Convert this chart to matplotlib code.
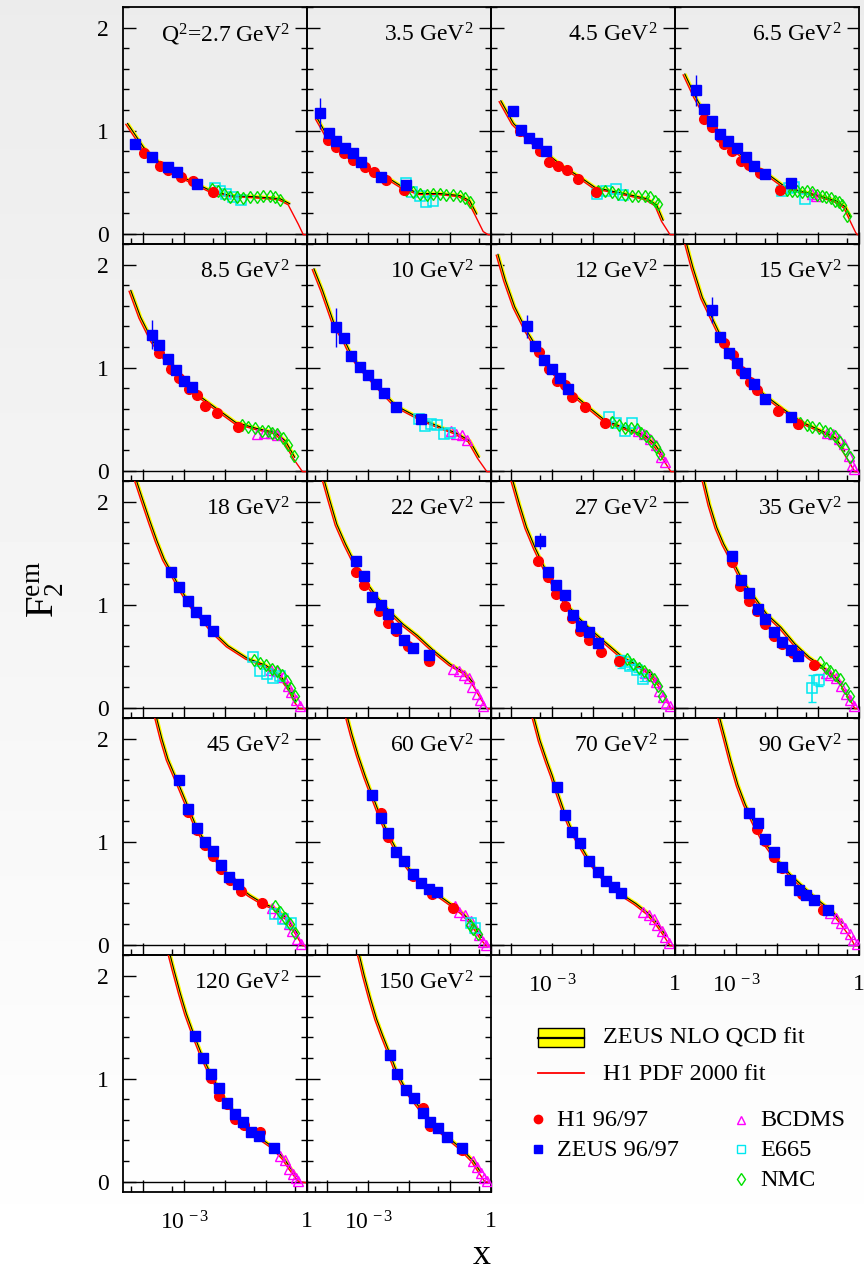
import numpy as np
import matplotlib.pyplot as plt
from matplotlib.ticker import FixedLocator, FixedFormatter, NullFormatter
from matplotlib.transforms import ScaledTranslation
from matplotlib.patches import Rectangle

plt.rcParams['font.family'] = ['Liberation Serif', 'DejaVu Serif']
plt.rcParams['mathtext.fontset'] = 'custom'
plt.rcParams['mathtext.rm'] = 'Liberation Serif'
plt.rcParams['mathtext.it'] = 'Liberation Serif:italic'

# Q2 bins (GeV^2)
q2_labels = ['Q$^2$=2.7 GeV$^2$', '3.5 GeV$^2$', '4.5 GeV$^2$', '6.5 GeV$^2$',
             '8.5 GeV$^2$', '10 GeV$^2$', '12 GeV$^2$', '15 GeV$^2$',
             '18 GeV$^2$', '22 GeV$^2$', '27 GeV$^2$', '35 GeV$^2$',
             '45 GeV$^2$', '60 GeV$^2$', '70 GeV$^2$', '90 GeV$^2$',
             '120 GeV$^2$', '150 GeV$^2$']

# fit curves (log10 x, F2)
fit_lx = [
    [-4.39, -4.0, -3.76, -3.35, -2.94, -2.37, -1.88, -1.31, -0.66, -0.42, -0.17, -0.05, 0.0],
    [-4.25, -4.02, -3.78, -3.45, -3.04, -2.55, -2.15, -1.74, -1.25, -0.76, -0.52, -0.35, -0.15, -0.03, 0.0],
    [-4.26, -3.95, -3.55, -3.14, -2.73, -2.32, -1.96, -1.51, -1.02, -0.69, -0.45, -0.29, -0.08, 0.0],
    [-4.26, -4.0, -3.75, -3.42, -3.02, -2.61, -2.20, -1.79, -1.39, -0.98, -0.57, -0.33, -0.21, -0.04, 0.0],
    [-4.31, -4.07, -3.78, -3.43, -3.09, -2.68, -2.27, -1.75, -1.23, -0.77, -0.53, -0.30, -0.07, 0.0],
    [-4.33, -4.12, -3.83, -3.60, -3.42, -3.21, -3.00, -2.82, -2.61, -2.32, -1.70, -1.22, -0.87, -0.52, -0.29, -0.06, 0.0],
    [-4.33, -4.15, -3.92, -3.63, -3.28, -2.93, -2.53, -2.12, -1.72, -1.19, -0.73, -0.50, -0.27, -0.06, 0.0],
    [-4.25, -4.06, -3.83, -3.60, -3.36, -3.02, -2.67, -2.32, -1.86, -1.39, -0.93, -0.58, -0.35, -0.06, 0.0],
    [-4.21, -4.01, -3.84, -3.67, -3.49, -3.32, -3.12, -2.90, -2.71, -2.50, -2.30, -1.93, -1.46, -1.0, -0.65, -0.42, -0.28, -0.15, 0.0],
    [-4.11, -3.94, -3.77, -3.56, -3.31, -3.07, -2.78, -2.49, -2.15, -1.80, -1.39, -0.99, -0.64, -0.41, -0.17, -0.06, 0.0],
    [-4.0, -3.80, -3.63, -3.42, -3.19, -2.93, -2.64, -2.35, -2.01, -1.66, -1.31, -0.96, -0.61, -0.38, -0.15, -0.06, 0.0],
    [-3.82, -3.65, -3.48, -3.31, -3.07, -2.84, -2.55, -2.26, -1.91, -1.57, -1.22, -0.93, -0.64, -0.41, -0.17, -0.06, 0.0],
    [-3.71, -3.55, -3.40, -3.25, -3.12, -2.90, -2.69, -2.49, -2.31, -2.11, -1.90, -1.68, -1.40, -1.11, -0.77, -0.47, -0.24, -0.07, 0.0],
    [-3.54, -3.40, -3.25, -3.07, -2.90, -2.70, -2.52, -2.32, -2.12, -1.91, -1.72, -1.51, -1.32, -0.93, -0.70, -0.46, -0.23, -0.08, 0.0],
    [-3.48, -3.30, -3.12, -3.0, -2.89, -2.69, -2.51, -2.32, -2.10, -1.89, -1.69, -1.50, -1.31, -0.96, -0.67, -0.44, -0.21, -0.08, 0.0],
    [-3.44, -3.28, -3.13, -2.96, -2.78, -2.55, -2.32, -2.03, -1.68, -1.33, -0.93, -0.64, -0.41, -0.17, -0.06, 0.0],
    [-3.38, -3.25, -3.10, -2.95, -2.75, -2.55, -2.36, -2.15, -1.95, -1.75, -1.56, -1.36, -1.17, -0.81, -0.57, -0.40, -0.25, -0.16, 0.0],
    [-3.25, -3.10, -2.95, -2.80, -2.65, -2.47, -2.30, -2.09, -1.88, -1.67, -1.48, -1.29, -1.08, -0.72, -0.43, -0.25, -0.11, 0.0],
]
fit_f2 = [
    [1.07, 0.84, 0.74, 0.62, 0.53, 0.42, 0.37, 0.36, 0.34, 0.29, 0.10, 0.0, 0.0],
    [1.12, 0.96, 0.86, 0.74, 0.63, 0.55, 0.45, 0.39, 0.39, 0.37, 0.32, 0.19, 0.03, 0.0, 0.0],
    [1.29, 1.07, 0.91, 0.78, 0.65, 0.55, 0.45, 0.41, 0.37, 0.34, 0.28, 0.13, 0.0, 0.0],
    [1.55, 1.33, 1.15, 0.97, 0.81, 0.68, 0.57, 0.45, 0.41, 0.37, 0.32, 0.26, 0.16, 0.02, 0.0],
    [1.75, 1.49, 1.26, 1.07, 0.91, 0.74, 0.62, 0.47, 0.41, 0.37, 0.29, 0.13, 0.0, 0.0],
    [1.96, 1.75, 1.42, 1.28, 1.13, 1.01, 0.92, 0.84, 0.75, 0.63, 0.50, 0.42, 0.37, 0.29, 0.13, 0.0, 0.0],
    [2.10, 1.85, 1.59, 1.36, 1.13, 0.94, 0.76, 0.62, 0.49, 0.41, 0.34, 0.26, 0.13, 0.0, 0.0],
    [2.25, 1.97, 1.68, 1.49, 1.29, 1.07, 0.89, 0.74, 0.60, 0.47, 0.39, 0.32, 0.19, 0.0, 0.0],
    [2.25, 2.01, 1.81, 1.62, 1.44, 1.32, 1.17, 1.03, 0.93, 0.84, 0.74, 0.60, 0.48, 0.41, 0.31, 0.18, 0.07, 0.0, 0.0],
    [2.25, 2.01, 1.78, 1.59, 1.39, 1.23, 1.07, 0.94, 0.81, 0.70, 0.55, 0.42, 0.34, 0.23, 0.07, 0.0, 0.0],
    [2.25, 1.97, 1.75, 1.55, 1.36, 1.17, 1.00, 0.87, 0.74, 0.62, 0.50, 0.42, 0.34, 0.23, 0.07, 0.0, 0.0],
    [2.25, 1.97, 1.75, 1.59, 1.41, 1.23, 1.07, 0.91, 0.78, 0.62, 0.49, 0.41, 0.32, 0.23, 0.08, 0.0, 0.0],
    [2.25, 2.00, 1.80, 1.66, 1.54, 1.33, 1.13, 1.00, 0.89, 0.77, 0.66, 0.57, 0.48, 0.41, 0.35, 0.25, 0.11, 0.0, 0.0],
    [2.25, 2.04, 1.84, 1.63, 1.45, 1.24, 1.08, 0.93, 0.80, 0.69, 0.61, 0.54, 0.49, 0.38, 0.31, 0.21, 0.07, 0.0, 0.0],
    [2.25, 1.98, 1.77, 1.64, 1.50, 1.27, 1.10, 0.97, 0.82, 0.71, 0.62, 0.55, 0.49, 0.40, 0.31, 0.21, 0.08, 0.0, 0.0],
    [2.25, 2.01, 1.78, 1.55, 1.36, 1.17, 1.00, 0.84, 0.68, 0.55, 0.41, 0.32, 0.21, 0.08, 0.0, 0.0],
    [2.25, 2.05, 1.83, 1.63, 1.41, 1.21, 1.05, 0.90, 0.77, 0.66, 0.57, 0.49, 0.43, 0.33, 0.23, 0.13, 0.05, 0.01, 0.0],
    [2.25, 2.00, 1.78, 1.58, 1.42, 1.24, 1.06, 0.90, 0.79, 0.68, 0.59, 0.51, 0.44, 0.32, 0.20, 0.09, 0.01, 0.0],
]

# H1 96/97
h1_lx = [
    [-3.99, -3.60, -3.39, -3.09, -2.80, -2.29],
    [-3.98, -3.79, -3.59, -3.38, -3.08, -2.86, -2.57, -2.13],
    [-3.79, -3.30, -3.07, -2.85, -2.63, -2.37, -1.92],
    [-3.79, -3.59, -3.41, -3.30, -3.10, -2.89, -2.69, -2.41, -1.92],
    [-3.61, -3.32, -3.12, -2.89, -2.68, -2.49, -2.20, -1.68],
    [],
    [-3.33, -3.07, -2.88, -2.70, -2.52, -2.20, -1.72],
    [-3.29, -3.07, -2.89, -2.67, -2.49, -1.99, -1.48],
    [],
    [-3.31, -3.11, -2.73, -2.52, -2.32, -2.03, -1.51],
    [-3.34, -3.11, -2.91, -2.69, -2.52, -2.32, -2.10, -1.82, -1.37],
    [-3.10, -2.90, -2.69, -2.49, -2.30, -2.09, -1.88, -1.62, -1.09],
    [-2.90, -2.69, -2.49, -2.31, -2.11, -1.88, -1.61, -1.11],
    [-2.70, -2.52, -1.91, -1.45, -0.93],
    [],
    [-2.49, -2.30, -2.09, -1.88, -1.39, -0.89],
    [-2.36, -2.15, -1.95, -1.75, -1.55, -1.16],
    [-1.67, -1.48, -0.72],
]
h1_f2 = [
    [0.78, 0.66, 0.62, 0.55, 0.51, 0.40],
    [0.91, 0.84, 0.78, 0.72, 0.65, 0.60, 0.52, 0.42],
    [1.00, 0.80, 0.70, 0.66, 0.62, 0.53, 0.40],
    [1.11, 1.04, 0.94, 0.87, 0.80, 0.71, 0.67, 0.59, 0.42],
    [1.14, 0.99, 0.90, 0.79, 0.73, 0.63, 0.56, 0.42],
    [],
    [1.15, 0.99, 0.87, 0.83, 0.72, 0.62, 0.46],
    [1.24, 1.12, 0.97, 0.86, 0.78, 0.58, 0.45],
    [],
    [1.32, 1.19, 0.94, 0.82, 0.74, 0.60, 0.45],
    [1.42, 1.27, 1.10, 0.99, 0.87, 0.74, 0.66, 0.54, 0.45],
    [1.41, 1.18, 1.04, 0.94, 0.81, 0.70, 0.62, 0.53, 0.41],
    [1.29, 1.11, 0.97, 0.86, 0.73, 0.63, 0.52, 0.40],
    [1.28, 1.05, 0.67, 0.49, 0.36],
    [],
    [1.12, 1.01, 0.85, 0.74, 0.49, 0.34],
    [1.01, 0.83, 0.75, 0.61, 0.55, 0.48],
    [0.72, 0.54, 0.31],
]

# ZEUS 96/97
zeus_lx = [
    [-4.21, -3.78, -3.39, -3.19, -2.68],
    [-4.18, -3.96, -3.78, -3.57, -3.38, -3.19, -2.68, -2.08],
    [-3.97, -3.77, -3.57, -3.37, -3.16],
    [-3.98, -3.79, -3.59, -3.40, -3.20, -2.98, -2.77, -2.57, -2.30, -1.67],
    [-3.80, -3.61, -3.41, -3.20, -3.00, -2.81],
    [-3.80, -3.60, -3.42, -3.21, -3.00, -2.82, -2.61, -2.32, -1.70],
    [-3.63, -3.42, -3.21, -3.02, -2.82, -2.61],
    [-3.60, -3.39, -3.19, -2.98, -2.78, -2.57, -2.30, -1.67],
    [-3.32, -3.12, -2.90, -2.71, -2.50, -2.30],
    [-3.31, -3.11, -2.90, -2.70, -2.52, -2.32, -2.12, -1.91, -1.51],
    [-3.31, -3.10, -2.90, -2.69, -2.49, -2.30, -2.10, -1.89],
    [-3.10, -2.89, -2.68, -2.48, -2.30, -2.09, -1.88, -1.67, -1.48],
    [-3.12, -2.90, -2.69, -2.49, -2.31, -2.11, -1.90, -1.68],
    [-2.90, -2.70, -2.52, -2.32, -2.12, -1.91, -1.72, -1.51, -1.32],
    [-2.89, -2.69, -2.51, -2.32, -2.10, -1.89, -1.69, -1.50, -1.31],
    [-2.68, -2.48, -2.30, -2.09, -1.88, -1.68, -1.47, -1.30, -1.09, -0.75],
    [-2.75, -2.55, -2.36, -2.15, -1.95, -1.75, -1.56, -1.36, -1.17, -0.81],
    [-2.47, -2.30, -2.09, -1.88, -1.67, -1.48, -1.29, -1.08, -0.72],
]
zeus_f2 = [
    [0.87, 0.74, 0.65, 0.60, 0.48],
    [1.17, 0.98, 0.90, 0.83, 0.78, 0.70, 0.55, 0.47],
    [1.19, 1.01, 0.93, 0.88, 0.80],
    [1.39, 1.21, 1.09, 0.97, 0.90, 0.83, 0.74, 0.66, 0.58, 0.49],
    [1.32, 1.22, 1.08, 0.98, 0.87, 0.81],
    [1.39, 1.29, 1.11, 1.01, 0.93, 0.84, 0.75, 0.62, 0.50],
    [1.40, 1.21, 1.07, 0.99, 0.90, 0.79],
    [1.56, 1.30, 1.14, 1.05, 0.95, 0.84, 0.70, 0.52],
    [1.32, 1.17, 1.04, 0.93, 0.85, 0.74],
    [1.42, 1.28, 1.07, 1.00, 0.91, 0.77, 0.66, 0.58, 0.51],
    [1.62, 1.32, 1.19, 1.09, 0.90, 0.79, 0.73, 0.63],
    [1.47, 1.24, 1.11, 0.96, 0.86, 0.73, 0.64, 0.56, 0.50],
    [1.60, 1.32, 1.13, 1.00, 0.91, 0.77, 0.66, 0.59],
    [1.45, 1.23, 1.08, 0.90, 0.81, 0.69, 0.60, 0.54, 0.51],
    [1.53, 1.26, 1.09, 0.99, 0.81, 0.71, 0.62, 0.56, 0.50],
    [1.28, 1.18, 1.03, 0.90, 0.75, 0.63, 0.53, 0.48, 0.43, 0.34],
    [1.41, 1.20, 1.05, 0.91, 0.76, 0.66, 0.58, 0.48, 0.44, 0.33],
    [1.23, 1.05, 0.89, 0.81, 0.67, 0.58, 0.52, 0.43, 0.33],
]
# error on the lowest-x ZEUS point (the only one visible beyond the marker)
zeus_err0 = [0.02, 0.15, 0.05, 0.15, 0.14, 0.19, 0.11, 0.13, 0.02, 0.02,
             0.08, 0.02, 0.02, 0.02, 0.02, 0.02, 0.02, 0.02]

# BCDMS
bcdms_lx = [
    [], [], [],
    [-1.14, -1.06],
    [-1.23, -1.06, -0.88, -0.74],
    [-0.99, -0.85, -0.71, -0.58],
    [-0.90, -0.75, -0.61, -0.47, -0.35, -0.24],
    [-0.79, -0.64, -0.49, -0.37, -0.25, -0.17, -0.12],
    [-0.88, -0.73, -0.59, -0.47, -0.38, -0.28, -0.18],
    [-0.93, -0.78, -0.66, -0.54, -0.46, -0.35, -0.27, -0.20],
    [-0.73, -0.59, -0.47, -0.38, -0.29, -0.21, -0.13],
    [-0.81, -0.70, -0.56, -0.44, -0.32, -0.23, -0.12],
    [-0.86, -0.71, -0.57, -0.45, -0.36, -0.24, -0.15],
    [-0.89, -0.78, -0.64, -0.50, -0.38, -0.29, -0.20, -0.12],
    [-0.79, -0.64, -0.52, -0.44, -0.32, -0.24, -0.15],
    [-0.70, -0.56, -0.44, -0.35, -0.23, -0.14, -0.06],
    [-0.65, -0.55, -0.45, -0.34, -0.26, -0.21],
    [-0.43, -0.34, -0.25, -0.17, -0.11],
]
bcdms_f2 = [
    [], [], [],
    [0.39, 0.37],
    [0.36, 0.37, 0.37, 0.35],
    [0.39, 0.36, 0.35, 0.30],
    [0.39, 0.36, 0.31, 0.25, 0.13, 0.08],
    [0.37, 0.36, 0.31, 0.26, 0.14, 0.06, 0.02],
    [0.37, 0.36, 0.30, 0.21, 0.15, 0.07, 0.02],
    [0.38, 0.36, 0.32, 0.29, 0.20, 0.13, 0.07, 0.02],
    [0.34, 0.31, 0.25, 0.16, 0.10, 0.05, 0.02],
    [0.34, 0.32, 0.29, 0.21, 0.13, 0.07, 0.02],
    [0.36, 0.31, 0.26, 0.20, 0.13, 0.06, 0.01],
    [0.38, 0.32, 0.29, 0.23, 0.16, 0.09, 0.03, 0.0],
    [0.32, 0.29, 0.25, 0.19, 0.13, 0.07, 0.02],
    [0.31, 0.26, 0.21, 0.16, 0.10, 0.05, 0.01],
    [0.25, 0.21, 0.12, 0.07, 0.04, 0.01],
    [0.20, 0.14, 0.08, 0.04, 0.01],
]

# E665
e665_lx = [
    [-2.25, -2.13, -1.97, -1.80, -1.62],
    [-2.08, -1.94, -1.74, -1.59, -1.43],
    [-1.90, -1.69, -1.44, -1.26],
    [-1.89, -1.71, -1.59, -1.31],
    [],
    [-1.77, -1.62, -1.47, -1.31, -1.16, -1.01],
    [-1.62, -1.45, -1.22, -1.04],
    [],
    [-1.32, -1.16, -0.97, -0.82, -0.65],
    [],
    [-1.33, -1.22, -1.10, -0.94, -0.79],
    [-1.14, -0.99],
    [-0.79, -0.59, -0.39],
    [-0.50, -0.38],
    [], [], [], [],
]
e665_f2 = [
    [0.44, 0.41, 0.39, 0.36, 0.33],
    [0.49, 0.40, 0.37, 0.31, 0.32],
    [0.39, 0.41, 0.43, 0.38],
    [0.41, 0.44, 0.45, 0.34],
    [],
    [0.50, 0.43, 0.45, 0.44, 0.36, 0.37],
    [0.52, 0.46, 0.39, 0.46],
    [],
    [0.49, 0.36, 0.33, 0.29, 0.31],
    [],
    [0.45, 0.44, 0.40, 0.37, 0.28],
    [0.19, 0.27],
    [0.30, 0.25, 0.21],
    [0.21, 0.16],
    [], [], [], [],
]
e665_err = [
    [], [], [], [], [], [], [], [], [], [],
    [0.06, 0.02, 0.02, 0.02, 0.02],
    [0.13, 0.06],
    [], [], [], [], [], [],
]

# NMC
nmc_lx = [
    [-2.33, -2.17, -2.03, -1.88, -1.72, -1.56, -1.40, -1.23, -1.07, -0.91, -0.78, -0.66],
    [-2.08, -1.90, -1.74, -1.57, -1.41, -1.25, -1.09, -0.92, -0.76, -0.64, -0.52],
    [-1.88, -1.71, -1.55, -1.39, -1.22, -1.06, -0.90, -0.74, -0.61, -0.49, -0.41],
    [-1.75, -1.63, -1.51, -1.39, -1.27, -1.14, -1.02, -0.90, -0.80, -0.69, -0.59, -0.49, -0.41, -0.29],
    [-1.60, -1.44, -1.26, -1.11, -0.96, -0.85, -0.73, -0.59, -0.46, -0.32],
    [],
    [-1.54, -1.37, -1.22, -1.08, -0.94, -0.82, -0.71, -0.59, -0.47, -0.36],
    [-1.44, -1.28, -1.14, -0.99, -0.83, -0.70, -0.58, -0.46, -0.35, -0.23],
    [-1.29, -1.14, -1.0, -0.86, -0.73, -0.61, -0.50, -0.39, -0.30],
    [],
    [-1.17, -1.02, -0.88, -0.75, -0.64, -0.52, -0.41, -0.32],
    [-0.95, -0.81, -0.70, -0.58, -0.46, -0.35, -0.23],
    [-0.79, -0.65, -0.53, -0.42, -0.30],
    [-0.52, -0.43, -0.32],
    [], [], [], [],
]
nmc_f2 = [
    [0.43, 0.41, 0.39, 0.36, 0.36, 0.35, 0.36, 0.36, 0.37, 0.37, 0.36, 0.33],
    [0.42, 0.40, 0.39, 0.38, 0.39, 0.39, 0.38, 0.38, 0.37, 0.35, 0.31],
    [0.41, 0.41, 0.40, 0.39, 0.38, 0.37, 0.37, 0.37, 0.36, 0.32, 0.29],
    [0.42, 0.41, 0.41, 0.40, 0.41, 0.40, 0.38, 0.37, 0.36, 0.35, 0.32, 0.31, 0.28, 0.17],
    [0.44, 0.42, 0.41, 0.39, 0.39, 0.37, 0.36, 0.32, 0.25, 0.14],
    [],
    [0.47, 0.44, 0.41, 0.41, 0.40, 0.37, 0.34, 0.29, 0.23, 0.16],
    [0.46, 0.44, 0.42, 0.41, 0.39, 0.37, 0.34, 0.28, 0.21, 0.13],
    [0.46, 0.43, 0.41, 0.38, 0.36, 0.32, 0.26, 0.19, 0.11],
    [],
    [0.47, 0.42, 0.39, 0.36, 0.32, 0.28, 0.21, 0.11],
    [0.44, 0.39, 0.36, 0.32, 0.28, 0.19, 0.11],
    [0.38, 0.32, 0.26, 0.20, 0.11],
    [0.19, 0.15, 0.10],
    [], [], [], [],
]

# layout in pixels of the 864x1274 canvas
col_left = [123, 307, 491, 675]
row_top = [7, 244, 481, 718, 955]
pw, ph = 184, 237
FW, FH = 864, 1274

fig = plt.figure(figsize=(FW / 100, FH / 100), dpi=100)

# soft vertical grey gradient behind everything
bg = fig.add_axes([0, 0, 1, 1], zorder=-10)
grad = np.linspace(0.925, 1.0, 256)[:, None]
bg.imshow(grad, cmap='gray', vmin=0, vmax=1, aspect='auto', extent=[0, 1, 0, 1])
bg.axis('off')

xmaj = [1e-4, 1e-3, 1e-2, 1e-1, 1]
xmin_t = [5e-5, 5e-4, 5e-3, 5e-2, 0.5]
xlabels = ['', r'$10^{\,-3}$', '', '', '1']

for i in range(18):
    r, c = divmod(i, 4)
    ax = fig.add_axes([col_left[c] / FW, 1 - (row_top[r] + ph) / FH, pw / FW, ph / FH])
    ax.patch.set_alpha(0)
    ax.set_xscale('log')
    ax.set_xlim(10 ** -4.5, 1)
    ax.set_ylim(-0.1, 2.2)
    for s in ax.spines.values():
        s.set_linewidth(1.3)

    ax.axhline(0, color='black', lw=1.0, zorder=1)

    # fits
    lx = np.array(fit_lx[i])
    x = 10 ** lx
    f = np.array(fit_f2[i])
    m = lx <= -0.2
    ax.plot(x[m], f[m], color='#ffff00', lw=2.7, solid_capstyle='butt', zorder=2)
    off = ScaledTranslation(-1.2 / 72, -0.7 / 72, fig.dpi_scale_trans)
    ax.plot(x, f, color='red', lw=1.0, transform=ax.transData + off, zorder=3)
    ax.plot(x[m], f[m], color='black', lw=0.8, zorder=4)

    # data
    if bcdms_lx[i]:
        ax.plot(10 ** np.array(bcdms_lx[i]), bcdms_f2[i], ls='none', marker='^', ms=6.5,
                mfc='none', mec='#ff00ff', mew=1.0, zorder=5)
    if e665_lx[i]:
        if e665_err[i]:
            ax.errorbar(10 ** np.array(e665_lx[i]), e665_f2[i], yerr=e665_err[i], fmt='none',
                        ecolor='#00e8f0', elinewidth=1.2, capsize=3, zorder=5)
        ax.plot(10 ** np.array(e665_lx[i]), e665_f2[i], ls='none', marker='s', ms=6.5,
                mfc='none', mec='#00e8f0', mew=1.1, zorder=5)
    if nmc_lx[i]:
        ax.plot(10 ** np.array(nmc_lx[i]), nmc_f2[i], ls='none', marker='d', ms=6.5,
                mfc='none', mec='#00e000', mew=1.0, zorder=6)
    if h1_lx[i]:
        ax.plot(10 ** np.array(h1_lx[i]), h1_f2[i], ls='none', marker='o', ms=7,
                mfc='red', mec='red', zorder=7)
    zx = 10 ** np.array(zeus_lx[i])
    zerr = np.zeros(len(zx))
    zerr[0] = zeus_err0[i]
    ax.errorbar(zx, zeus_f2[i], yerr=zerr, fmt='none', ecolor='#0000ff', elinewidth=1.0, zorder=8)
    ax.plot(zx, zeus_f2[i], ls='none', marker='s', ms=7, mfc='#0000ff', mec='#0000ff', zorder=8)

    ax.text(1 - 17 / pw, 1 - 28 / ph, q2_labels[i], transform=ax.transAxes,
            ha='right', va='center', fontsize=17, zorder=9)

    # ticks
    ax.xaxis.set_major_locator(FixedLocator(xmaj))
    ax.xaxis.set_minor_locator(FixedLocator(xmin_t))
    ax.xaxis.set_minor_formatter(NullFormatter())
    ax.yaxis.set_major_locator(FixedLocator([0, 1, 2]))
    ax.yaxis.set_minor_locator(FixedLocator(np.arange(0, 2.21, 0.2)))
    ax.tick_params(which='major', direction='in', length=9, width=1.0, top=False, right=True,
                   labelsize=17, pad=10)
    ax.tick_params(which='minor', direction='in', length=4.5, width=1.0, top=False, right=True)
    if c == 0:
        ax.set_yticklabels(['0', '1', '2'])
    else:
        ax.set_yticklabels([])
    if i in (14, 15, 16, 17):
        ax.xaxis.set_major_formatter(FixedFormatter(xlabels))
        ax.tick_params(axis='x', pad=14)
    else:
        ax.set_xticklabels([])

# axis titles
fig.text(45 / FW, 1 - 590 / FH, r'F$_2^{\mathrm{em}}$', rotation=90, fontsize=28,
         ha='center', va='center')
fig.text(482 / FW, 1 - 1256 / FH, 'x', fontsize=26, ha='center', va='center')

# legend drawn in pixel coordinates of the free corner
lg = fig.add_axes([491 / FW, 1 - 1192 / FH, 373 / FW, 237 / FH])
lg.set_xlim(491, 864)
lg.set_ylim(1192, 955)
lg.axis('off')
lg.add_patch(Rectangle((538, 1028), 46, 19, facecolor='#ffff00', edgecolor='black', lw=1.0))
lg.plot([538, 584], [1037.5, 1037.5], color='black', lw=1.6)
lg.plot([538, 584], [1073, 1073], color='red', lw=1.3)
lg.text(603, 1038, 'ZEUS NLO QCD fit', fontsize=17.5, va='center')
lg.text(603, 1074, 'H1 PDF 2000 fit', fontsize=17.5, va='center')
lg.plot(538, 1119, 'o', ms=6, color='red')
lg.text(557, 1120, 'H1 96/97', fontsize=17.5, va='center')
lg.plot(538, 1149, 's', ms=5.5, color='#0000ff')
lg.text(557, 1150, 'ZEUS 96/97', fontsize=17.5, va='center')
lg.plot(741, 1120, '^', ms=6, mfc='none', mec='#ff00ff', mew=1.0)
lg.text(760, 1120, 'BCDMS', fontsize=17.5, va='center')
lg.plot(741, 1149, 's', ms=6, mfc='none', mec='#00e8f0', mew=1.0)
lg.text(760, 1150, 'E665', fontsize=17.5, va='center')
lg.plot(741, 1179, 'd', ms=6, mfc='none', mec='#00e000', mew=1.0)
lg.text(760, 1180, 'NMC', fontsize=17.5, va='center')

fig.savefig('out.png', dpi=100)
